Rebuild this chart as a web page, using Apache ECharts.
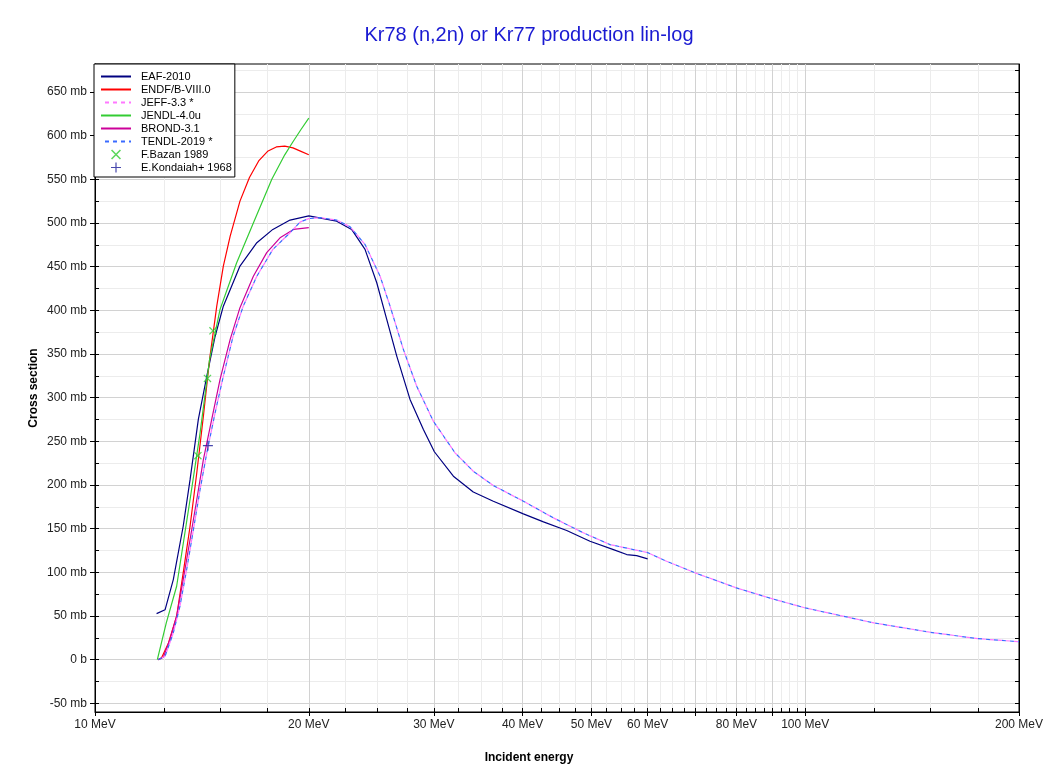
<!DOCTYPE html>
<html><head><meta charset="utf-8">
<script src="https://cdn.jsdelivr.net/npm/echarts@6/dist/echarts.min.js"></script>
<style>html,body{margin:0;padding:0;background:#fff}#c{width:1051px;height:774px}</style>
</head><body><div id="c"></div>
<script>
// ---- data (energy in MeV, cross section in mb) ----
const eafEnergy = [12.21, 12.55, 12.89, 13.31, 13.61, 13.98, 14.37, 14.76, 15.16, 16.0, 16.9, 17.8, 18.82, 20.0, 21.89, 22.98, 24.0, 24.93, 25.75, 26.6, 27.77, 29.0, 30.05, 31.96, 34.09, 36.38, 40.1, 42.8, 46.15, 49.77, 53.7, 56.06, 57.9, 60.0];
const eafValues = [52.7, 57, 91.6, 152.7, 206, 275, 324.5, 370, 404.7, 450.6, 477.4, 492.6, 503.3, 508, 502, 492.6, 469.7, 431.5, 389.5, 347.5, 297.9, 263.5, 238, 210, 192, 181.4, 166.9, 157.7, 147.8, 135.5, 126, 120.3, 119.1, 115.3];

const endfEnergy = [12.28, 12.41, 12.69, 13.03, 13.31, 13.61, 13.91, 14.21, 14.5, 14.84, 15.16, 15.5, 16.0, 16.5, 17.0, 17.5, 18.0, 18.5, 19.0, 19.5, 20.0];
const endfValues = [0, 2, 19, 49.6, 99.3, 152.7, 213.9, 278.7, 343.7, 404.7, 450.6, 485, 525, 552, 571, 582, 587, 588, 586, 582, 578];

// JEFF-3.3 and TENDL-2019 coincide over the whole range
const jeffTendlEnergy = [12.28, 12.55, 12.89, 13.17, 13.46, 13.76, 14.06, 14.37, 14.76, 15.16, 15.65, 16.17, 16.9, 17.8, 18.82, 19.44, 20.0, 20.74, 21.89, 22.86, 24.0, 25.2, 26.03, 27.18, 28.38, 29.95, 32.13, 34.09, 36.38, 40.1, 44.2, 48.7, 53.1, 57.3, 60.0, 63.8, 70, 80, 90, 100, 125, 150, 175, 200];
const jeffTendlValues = [0, 3.8, 30.6, 61, 103, 149, 194.8, 236.8, 282.6, 324.5, 370.4, 404.7, 439, 469.7, 488.8, 501, 505, 506, 503.3, 495.7, 475.4, 439, 404.7, 355, 313, 273, 236.8, 215.7, 199.3, 181.4, 162.3, 145.2, 131.7, 126, 122.5, 112.6, 99.3, 82.1, 69.5, 59.2, 42, 31.3, 24, 20.5];

const jendlEnergy = [12.24, 12.6, 13.03, 13.61, 14.06, 14.5, 15.0, 15.83, 16.71, 17.74, 18.5, 19.0, 19.5, 20.0];
const jendlValues = [0, 42, 84, 183.3, 259.7, 343.7, 401, 454.5, 500, 550, 578, 593, 607, 620];

const brondEnergy = [12.28, 12.48, 12.75, 13.03, 13.31, 13.61, 13.91, 14.21, 14.6, 15.0, 15.5, 16.0, 16.71, 17.45, 18.22, 19.03, 20.0];
const brondValues = [0, 2.7, 23, 49.6, 91.6, 137.5, 183.3, 229, 275, 320.8, 366.6, 403, 439, 466, 483, 492.6, 494.6];

const bazanEnergy = [13.96, 14.4, 14.66];
const bazanValues = [233.5, 322, 376.5];
const kondaiahEnergy = [14.42];
const kondaiahValues = [245];

// ---- ticks ----
const xTickLabels = [10, 20, 30, 40, 50, 60, 80, 100, 200];
const xMajorTicks = [10, 20, 30, 40, 50, 60, 70, 80, 90, 100, 200];
const xMinorTicks = [12.5, 15, 17.5, 22.5, 25, 27.5, 32.5, 35, 37.5, 42.5, 45, 47.5, 52.5, 55, 57.5, 62.5, 65, 67.5, 72.5, 75, 77.5, 82.5, 85, 87.5, 92.5, 95, 97.5, 125, 150, 175];
const yMajorTicks = [-50, 0, 50, 100, 150, 200, 250, 300, 350, 400, 450, 500, 550, 600, 650];
const yMinorTicks = [-25, 25, 75, 125, 175, 225, 275, 325, 375, 425, 475, 525, 575, 625, 675];

const zip = (a, b) => a.map((v, i) => [v, b[i]]);
const FONT = '"Liberation Sans", Arial, sans-serif';
const xAll = xMajorTicks.concat(xMinorTicks).sort((a, b) => a - b);
const yAll = yMajorTicks.concat(yMinorTicks).sort((a, b) => a - b);
const X_MIN = 10, X_MAX = 200, Y_MIN = -60, Y_MAX = 682;

const crossPath = 'path://M0,1.1L1.1,0L10,8.9L8.9,10Z M8.9,0L10,1.1L1.1,10L0,8.9Z';
const plusPath = 'path://M4.4,0H5.6V10H4.4Z M0,4.4H10V5.6H0Z';

function lineSeries(name, data, color, extra) {
  return Object.assign({
    name, type: 'line', data, showSymbol: false, symbol: 'none', smooth: false,
    xAxisIndex: 0, yAxisIndex: 0, clip: true,
    lineStyle: { color, width: 1.2 }, itemStyle: { color }
  }, extra || {});
}
const lineLegend = name => ({ name, itemStyle: { opacity: 0 } });

const chart = echarts.init(document.getElementById('c'), null, { renderer: 'canvas' });
chart.setOption({
  animation: false,
  backgroundColor: '#fff',
  grid: { left: 95, top: 64, width: 924, height: 648, show: true, borderColor: '#000', borderWidth: 1, backgroundColor: 'transparent' },
  xAxis: [
    { type: 'log', min: X_MIN, max: X_MAX, position: 'bottom',
      axisLine: { show: false, onZero: false },
      axisTick: { show: true, inside: true, length: 4, customValues: xAll, lineStyle: { color: '#000' } },
      axisLabel: { show: false },
      splitLine: { show: true, lineStyle: { color: '#ececec', width: 1 } } },
    { type: 'log', min: X_MIN, max: X_MAX, position: 'bottom',
      axisLine: { show: true, onZero: false, lineStyle: { color: '#000', width: 1 } },
      axisTick: { show: true, inside: false, length: 4, customValues: xMajorTicks, lineStyle: { color: '#000' } },
      axisLabel: { show: true, customValues: xTickLabels, formatter: v => v + ' MeV', fontSize: 12, fontFamily: FONT, color: '#222', margin: 7, hideOverlap: false },
      splitLine: { show: true, lineStyle: { color: '#d2d2d2', width: 1 } } }
  ],
  yAxis: [
    { type: 'value', min: Y_MIN, max: Y_MAX, position: 'left',
      axisLine: { show: false, onZero: false },
      axisTick: { show: true, inside: true, length: 4, customValues: yAll, lineStyle: { color: '#000' } },
      axisLabel: { show: false },
      splitLine: { show: true, lineStyle: { color: '#ececec', width: 1 } } },
    { type: 'value', min: Y_MIN, max: Y_MAX, position: 'left',
      axisLine: { show: true, onZero: false, lineStyle: { color: '#000', width: 1 } },
      axisTick: { show: true, inside: false, length: 5, customValues: yMajorTicks, lineStyle: { color: '#000' } },
      axisLabel: { show: true, customValues: yMajorTicks, formatter: v => (v === 0 ? '0 b' : v + ' mb'), fontSize: 12, fontFamily: FONT, color: '#222', margin: 8 },
      splitLine: { show: true, lineStyle: { color: '#d2d2d2', width: 1 } } },
    { type: 'value', min: Y_MIN, max: Y_MAX, position: 'right',
      axisLine: { show: true, onZero: false, lineStyle: { color: '#000', width: 1 } },
      axisTick: { show: true, inside: true, length: 4, customValues: yAll, lineStyle: { color: '#000' } },
      axisLabel: { show: false },
      splitLine: { show: false } }
  ],
  legend: {
    orient: 'vertical', left: 94, top: 64,
    data: [lineLegend('EAF-2010'), lineLegend('ENDF/B-VIII.0'), lineLegend('JEFF-3.3 *'), lineLegend('JENDL-4.0u'), lineLegend('BROND-3.1'), lineLegend('TENDL-2019 *'), 'F.Bazan 1989', 'E.Kondaiah+ 1968'],
    itemWidth: 30, itemHeight: 10, itemGap: 0,
    padding: [6, 3, 3, 6],
    backgroundColor: '#fff', borderColor: '#000', borderWidth: 1,
    textStyle: { fontSize: 11, fontFamily: FONT, color: '#000', lineHeight: 13, padding: [0, 0, 0, 5] },
    lineStyle: { width: 2 },
    selectedMode: false, z: 10
  },
  graphic: [
    { type: 'text', x: 529, y: 35, style: { text: 'Kr78 (n,2n) or Kr77 production lin-log', font: '20px ' + FONT, fill: '#1a1ad2', align: 'center', verticalAlign: 'middle' } },
    { type: 'text', x: 529, y: 758, style: { text: 'Incident energy', font: 'bold 12px ' + FONT, fill: '#000', align: 'center', verticalAlign: 'middle' } },
    { type: 'text', x: 34, y: 388, rotation: Math.PI / 2, style: { text: 'Cross section', font: 'bold 12px ' + FONT, fill: '#000', align: 'center', verticalAlign: 'middle' } }
  ],
  series: [
    lineSeries('EAF-2010', zip(eafEnergy, eafValues), '#000080'),
    lineSeries('ENDF/B-VIII.0', zip(endfEnergy, endfValues), '#ff0000'),
    lineSeries('JENDL-4.0u', zip(jendlEnergy, jendlValues), '#33cc33'),
    lineSeries('BROND-3.1', zip(brondEnergy, brondValues), '#cc0099'),
    lineSeries('TENDL-2019 *', zip(jeffTendlEnergy, jeffTendlValues), '#3a6bff', { lineStyle: { color: '#3a6bff', width: 1.2, type: [4, 4] } }),
    lineSeries('JEFF-3.3 *', zip(jeffTendlEnergy, jeffTendlValues), '#ff77ff', { lineStyle: { color: '#ff77ff', width: 1.2, type: [4, 4], dashOffset: 4 } }),
    { name: 'F.Bazan 1989', type: 'scatter', data: zip(bazanEnergy, bazanValues), symbol: crossPath, symbolSize: 8, itemStyle: { color: '#33cc33' }, z: 5 },
    { name: 'E.Kondaiah+ 1968', type: 'scatter', data: zip(kondaiahEnergy, kondaiahValues), symbol: plusPath, symbolSize: 10, itemStyle: { color: '#1a1a99' }, z: 5 }
  ]
});
</script>
</body></html>
